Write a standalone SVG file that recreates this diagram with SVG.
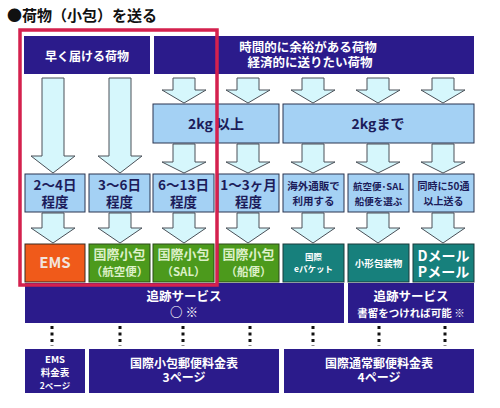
<svg xmlns="http://www.w3.org/2000/svg" width="500" height="408" viewBox="0 0 500 408">
<defs>
<style>
text{font-family:"Noto Sans CJK JP","Noto Sans CJK SC",sans-serif;font-weight:bold;text-anchor:middle}
.navy{fill:#2b1b8b}
.lb{fill:#a4d1f4;stroke:#2a3550;stroke-width:1}
.arr{fill:#d6f7fc;stroke:#4a5058;stroke-width:1}
.w{fill:#ffffff}
.dk{fill:#1c1c5a}
.ems{fill:#f05a1a;stroke:#3a2a20;stroke-width:1}
.gr{fill:#4c9a1c;stroke:#2a4a18;stroke-width:1}
.tl{fill:#17807c;stroke:#1a3a3a;stroke-width:1}
.gt{fill:#dcf0c8}
.dot{stroke:#111;stroke-width:3;stroke-dasharray:3 3.5}
</style>
<path id="tall" d="M-11,0 H11 V78 H22 L0,95 L-22,78 H-11 Z"/>
<path id="sh1" d="M-11,0 H11 V12 H22 L0,25 L-22,12 H-11 Z"/>
<path id="sh2" d="M-11,0 H11 V18 H22 L0,29 L-22,18 H-11 Z"/>
<path id="sh3" d="M-11,0 H11 V15 H22 L0,30 L-22,15 H-11 Z"/>
</defs>
<rect width="500" height="408" fill="#ffffff"/>
<text x="7" y="21" style="text-anchor:start;font-size:15px" fill="#111">●荷物（小包）を送る</text>

<g id="header-fast">
<rect class="navy" x="24" y="36" width="126" height="38"/>
<text class="w" x="87" y="61" font-size="12">早く届ける荷物</text>
</g>
<g id="header-econ">
<rect class="navy" x="154" y="36" width="320" height="38"/>
<text class="w" font-size="12.5"><tspan x="308" y="52">時間的に余裕がある荷物</tspan><tspan x="310" y="67">経済的に送りたい荷物</tspan></text>
</g>

<g id="connectors">
<use href="#tall" class="arr" x="53" y="78"/>
<use href="#tall" class="arr" x="120" y="78"/>
<use href="#sh1" class="arr" x="184" y="78"/>
<use href="#sh1" class="arr" x="248" y="78"/>
<use href="#sh1" class="arr" x="313" y="78"/>
<use href="#sh1" class="arr" x="378" y="78"/>
<use href="#sh1" class="arr" x="443" y="78"/>
<use href="#sh2" class="arr" x="184" y="144"/>
<use href="#sh2" class="arr" x="248" y="144"/>
<use href="#sh2" class="arr" x="313" y="144"/>
<use href="#sh2" class="arr" x="378" y="144"/>
<use href="#sh2" class="arr" x="443" y="144"/>
<use href="#sh3" class="arr" x="53" y="213"/>
<use href="#sh3" class="arr" x="120" y="213"/>
<use href="#sh3" class="arr" x="184" y="213"/>
<use href="#sh3" class="arr" x="248" y="213"/>
<use href="#sh3" class="arr" x="313" y="213"/>
<use href="#sh3" class="arr" x="378" y="213"/>
<use href="#sh3" class="arr" x="443" y="213"/>
<line class="dot" x1="52" y1="326" x2="52" y2="346"/>
<line class="dot" x1="120" y1="326" x2="120" y2="346"/>
<line class="dot" x1="183" y1="326" x2="183" y2="346"/>
<line class="dot" x1="250" y1="326" x2="250" y2="346"/>
<line class="dot" x1="313" y1="326" x2="313" y2="346"/>
<line class="dot" x1="379" y1="326" x2="379" y2="346"/>
<line class="dot" x1="445" y1="326" x2="445" y2="346"/>
</g>

<g id="w-over2kg"><rect class="lb" x="153" y="104" width="126" height="39"/><text class="dk" x="216" y="129" font-size="14">2kg 以上</text></g>
<g id="w-upto2kg"><rect class="lb" x="283" y="104" width="191" height="39"/><text class="dk" x="378" y="129" font-size="14">2kgまで</text></g>

<g id="d1"><rect class="lb" x="25" y="174" width="60" height="38"/><text class="dk" font-size="13.5"><tspan x="55" y="190">2～4日</tspan><tspan x="55" y="207">程度</tspan></text></g>
<g id="d2"><rect class="lb" x="89" y="174" width="61" height="38"/><text class="dk" font-size="13.5"><tspan x="119.5" y="190">3～6日</tspan><tspan x="119.5" y="207">程度</tspan></text></g>
<g id="d3"><rect class="lb" x="153" y="174" width="61" height="38"/><text class="dk" font-size="13.5"><tspan x="183.5" y="190">6～13日</tspan><tspan x="183.5" y="207">程度</tspan></text></g>
<g id="d4"><rect class="lb" x="218" y="174" width="61" height="38"/><text class="dk" font-size="13.5"><tspan x="248.5" y="190">1～3ヶ月</tspan><tspan x="248.5" y="207">程度</tspan></text></g>
<g id="d5"><rect class="lb" x="283" y="174" width="61" height="38"/><text class="dk" font-size="10.5"><tspan x="313.5" y="190">海外通販で</tspan><tspan x="313.5" y="205">利用する</tspan></text></g>
<g id="d6"><rect class="lb" x="348" y="174" width="61" height="38"/><text class="dk" font-size="9.5"><tspan x="378.5" y="190">航空便･SAL</tspan><tspan x="378.5" y="205">船便を選ぶ</tspan></text></g>
<g id="d7"><rect class="lb" x="413" y="174" width="61" height="38"/><text class="dk" font-size="10"><tspan x="443.5" y="190">同時に50通</tspan><tspan x="443.5" y="205">以上送る</tspan></text></g>

<g id="p-ems"><rect class="ems" x="25" y="244" width="60" height="38"/><text x="55" y="268" font-size="15" fill="#f2e4dc">EMS</text></g>
<g id="p-air"><rect class="gr" x="89" y="244" width="61" height="38"/><text class="gt"><tspan x="119.5" y="259" font-size="13">国際小包</tspan><tspan x="119.5" y="276" font-size="11.5">（航空便）</tspan></text></g>
<g id="p-sal"><rect class="gr" x="153" y="244" width="61" height="38"/><text class="gt"><tspan x="183.5" y="259" font-size="13">国際小包</tspan><tspan x="183.5" y="276" font-size="11.5">（SAL）</tspan></text></g>
<g id="p-ship"><rect class="gr" x="218" y="244" width="61" height="38"/><text class="gt"><tspan x="248.5" y="259" font-size="13">国際小包</tspan><tspan x="248.5" y="276" font-size="11.5">（船便）</tspan></text></g>
<g id="p-epkt"><rect class="tl" x="283" y="244" width="61" height="38"/><text class="w" font-size="8.5"><tspan x="313.5" y="260">国際</tspan><tspan x="313.5" y="272">eパケット</tspan></text></g>
<g id="p-small"><rect class="tl" x="348" y="244" width="61" height="38"/><text class="w" x="378.5" y="267" font-size="9.5">小形包装物</text></g>
<g id="p-dp"><rect class="tl" x="413" y="244" width="61" height="38"/><text class="w" font-size="14"><tspan x="443.5" y="261">Dメール</tspan><tspan x="443.5" y="277">Pメール</tspan></text></g>

<g id="track1"><rect class="navy" x="25" y="283" width="319" height="40"/><text class="w" font-size="12.5"><tspan x="184" y="301">追跡サービス</tspan><tspan x="184" y="317">○ ※</tspan></text></g>
<g id="track2"><rect class="navy" x="348" y="283" width="126" height="40"/><text class="w"><tspan x="411" y="301" font-size="12.5">追跡サービス</tspan><tspan x="411" y="317" font-size="10.5">書留をつければ可能 ※</tspan></text></g>

<g id="b-ems"><rect class="navy" x="25" y="349" width="60" height="44"/><text class="w" font-size="9.5"><tspan x="55" y="363">EMS</tspan><tspan x="55" y="376">料金表</tspan><tspan x="55" y="389" font-size="8.5">2ページ</tspan></text></g>
<g id="b-parcel"><rect class="navy" x="89" y="349" width="190" height="44"/><text class="w" font-size="12"><tspan x="184" y="368">国際小包郵便料金表</tspan><tspan x="184" y="382">3ページ</tspan></text></g>
<g id="b-regular"><rect class="navy" x="284" y="349" width="190" height="44"/><text class="w" font-size="12"><tspan x="379" y="368">国際通常郵便料金表</tspan><tspan x="379" y="382">4ページ</tspan></text></g>

<rect x="20" y="30" width="197" height="255" fill="none" stroke="#d4214e" stroke-width="3.5"/>
</svg>
